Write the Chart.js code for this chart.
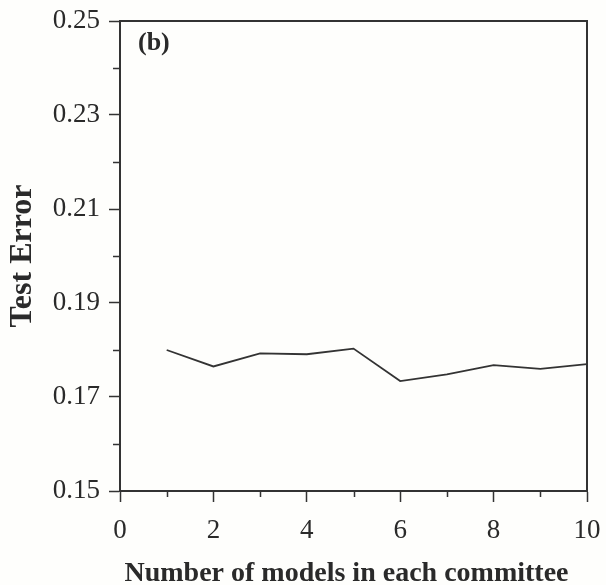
<!DOCTYPE html>
<html>
<head>
<meta charset="utf-8">
<script src="https://cdn.jsdelivr.net/npm/chart.js@4/dist/chart.umd.min.js"></script>
<style>
  html, body { margin: 0; padding: 0; background: #fefefc; }
  #wrap { width: 606px; height: 585px; position: relative; }
</style>
</head>
<body>
<div id="wrap"><canvas id="c" width="606" height="585"></canvas></div>
<script>
// Committee size vs. test error
const committeeSizes = [1, 2, 3, 4, 5, 6, 7, 8, 9, 10];
const testErrors = [0.1800, 0.1765, 0.1793, 0.1791, 0.1803, 0.1734, 0.1748, 0.1768, 0.1760, 0.1770];

const xMajorTicks = [0, 2, 4, 6, 8, 10];
const xMinorTicks = [1, 3, 5, 7, 9];
const yMajorTicks = [0.15, 0.17, 0.19, 0.21, 0.23, 0.25];
const yMinorTicks = [0.16, 0.18, 0.20, 0.22, 0.24];

const panelLabel = '(b)';
const xTitle = 'Number of models in each committee';
const yTitle = 'Test Error';

const ink = '#333333';
const textInk = '#2a2a2a';
const serif = '"Liberation Serif", "Times New Roman", serif';

// Frame on top/right, minor tick marks, x-axis title and the panel tag
const decorations = {
  id: 'decorations',
  afterDraw(chart) {
    const { ctx, chartArea: a, scales } = chart;
    ctx.save();
    ctx.strokeStyle = ink;
    ctx.lineWidth = 2;
    ctx.beginPath();
    ctx.moveTo(a.left, a.top);
    ctx.lineTo(a.right, a.top);
    ctx.lineTo(a.right, a.bottom);
    ctx.stroke();

    ctx.lineWidth = 1.5;
    ctx.beginPath();
    xMinorTicks.forEach(v => {
      const px = Math.round(scales.x.getPixelForValue(v)) + 0.5;
      ctx.moveTo(px, a.bottom);
      ctx.lineTo(px, a.bottom + 6);
    });
    yMinorTicks.forEach(v => {
      const py = Math.round(scales.y.getPixelForValue(v)) + 0.5;
      ctx.moveTo(a.left, py);
      ctx.lineTo(a.left - 7, py);
    });
    ctx.stroke();

    ctx.fillStyle = textInk;
    ctx.font = 'bold 26px ' + serif;
    ctx.textBaseline = 'alphabetic';
    ctx.textAlign = 'left';
    ctx.fillText(panelLabel, a.left + 18, a.top + 29);

    ctx.font = 'bold 28px ' + serif;
    ctx.textAlign = 'center';
    ctx.fillText(xTitle, (a.left + a.right) / 2 - 7, 581);
    ctx.restore();
  }
};

// Keep edge tick labels from pushing the plot area inward
const noEdgePadding = s => {
  s.paddingLeft = 0;
  s.paddingRight = 0;
  s.paddingTop = 0;
  s.paddingBottom = 0;
};

new Chart(document.getElementById('c'), {
  type: 'line',
  data: {
    datasets: [{
      data: committeeSizes.map((n, i) => ({ x: n, y: testErrors[i] })),
      borderColor: ink,
      borderWidth: 1.8,
      pointRadius: 0,
      tension: 0,
      fill: false
    }]
  },
  options: {
    responsive: false,
    animation: false,
    devicePixelRatio: 1,
    layout: { padding: { top: 21, right: 19, left: 0, bottom: 0 } },
    plugins: { legend: { display: false }, tooltip: { enabled: false } },
    scales: {
      x: {
        type: 'linear',
        min: 0,
        max: 10,
        afterBuildTicks: s => { s.ticks = xMajorTicks.map(v => ({ value: v })); },
        afterFit: s => { s.height = 94; noEdgePadding(s); },
        grid: {
          drawOnChartArea: false,
          drawTicks: true,
          tickLength: 11,
          tickWidth: 1.5,
          tickColor: ink
        },
        border: { display: true, color: ink, width: 2 },
        ticks: {
          color: textInk,
          font: { family: serif, size: 27 },
          padding: 13,
          maxRotation: 0,
          callback: v => String(v)
        },
        title: { display: false }
      },
      y: {
        type: 'linear',
        min: 0.15,
        max: 0.25,
        afterBuildTicks: s => { s.ticks = yMajorTicks.map(v => ({ value: v })); },
        afterFit: s => { s.width = 120; noEdgePadding(s); },
        grid: {
          drawOnChartArea: false,
          drawTicks: true,
          tickLength: 11,
          tickWidth: 1.5,
          tickColor: ink
        },
        border: { display: true, color: ink, width: 2 },
        ticks: {
          color: textInk,
          font: { family: serif, size: 27 },
          padding: 9,
          callback: v => v.toFixed(2)
        },
        title: {
          display: true,
          text: yTitle,
          color: textInk,
          font: { family: serif, size: 32, weight: 'bold', lineHeight: 1 },
          padding: { top: 7, bottom: 0 }
        }
      }
    }
  },
  plugins: [decorations]
});
</script>
</body>
</html>
